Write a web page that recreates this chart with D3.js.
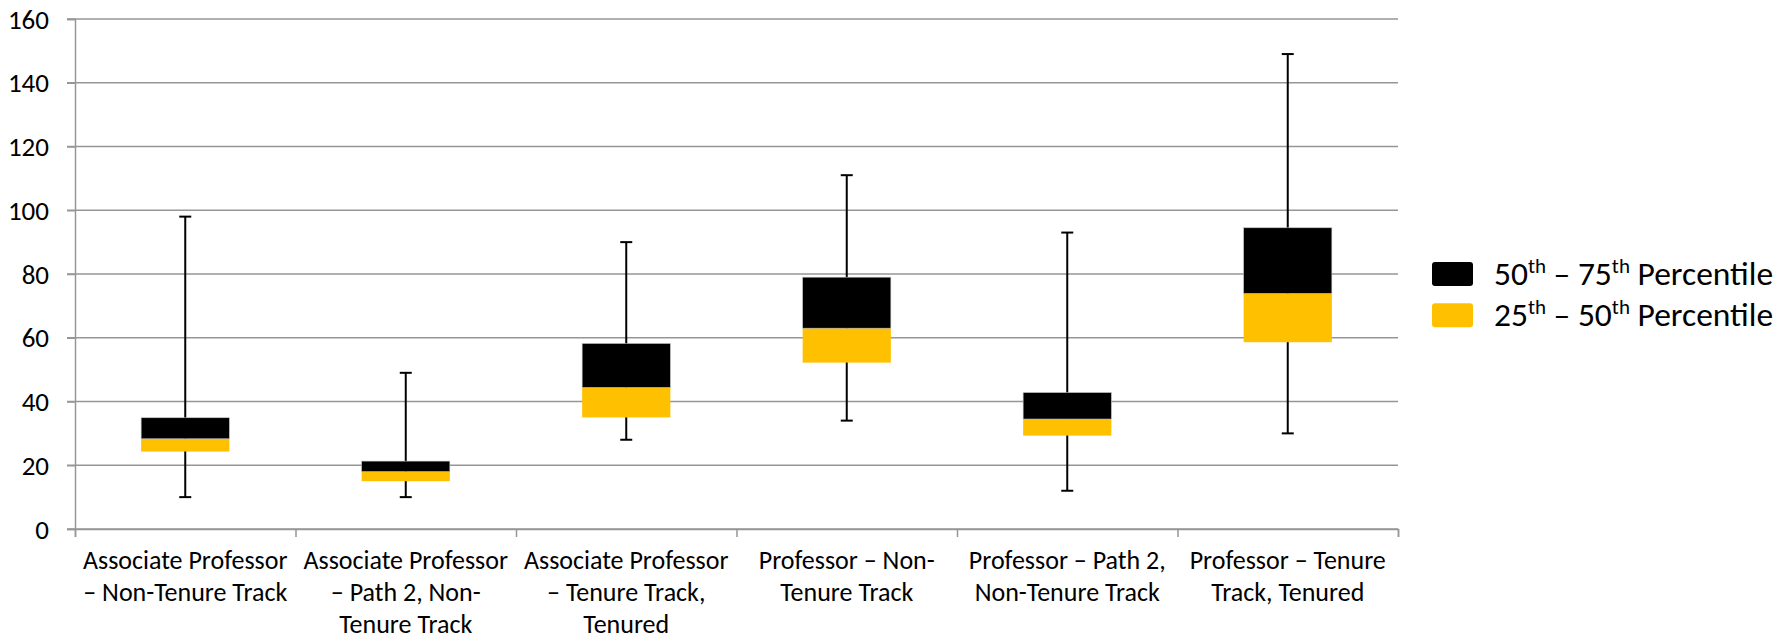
<!DOCTYPE html>
<html><head><meta charset="utf-8">
<script src="https://cdn.jsdelivr.net/npm/d3@7"></script>
<style>
html,body{margin:0;padding:0;background:#fff;}
svg{display:block;font-family:Carlito, Calibri, Lato, "Open Sans", sans-serif;}
</style></head>
<body>
<svg id="chart" width="1782" height="641"></svg>
<script>
const categories = [
  ["Associate Professor", "– Non-Tenure Track"],
  ["Associate Professor", "– Path 2, Non-", "Tenure Track"],
  ["Associate Professor", "– Tenure Track,", "Tenured"],
  ["Professor – Non-", "Tenure Track"],
  ["Professor – Path 2,", "Non-Tenure Track"],
  ["Professor – Tenure", "Track, Tenured"]
];
const minValues    = [10, 10, 28, 34, 12, 30];
const q1Values     = [24.3, 15, 35, 52.2, 29.3, 58.6];
const medianValues = [28.3, 18, 44.4, 63, 34.5, 73.9];
const q3Values     = [34.9, 21.3, 58.2, 79, 42.8, 94.5];
const maxValues    = [98, 49, 90, 111, 93, 149];
const yTicks = [0, 20, 40, 60, 80, 100, 120, 140, 160];
const legendLabels = [
  {parts: [["50","n"],["th","s"],[" – 75","n"],["th","s"],[" Percentile","n"]], color: "#000000"},
  {parts: [["25","n"],["th","s"],[" – 50","n"],["th","s"],[" Percentile","n"]], color: "#FFC000"}
];

(function(){
const svg = d3.select("#chart");
const pl = 75, pr = 1398, pt = 19, pb = 529;
const idx = categories.map((d, i) => i);
const x = d3.scaleBand().domain(idx).range([pl, pr]).paddingInner(0).paddingOuter(0);
const y = d3.scaleLinear().domain([0, 160]).range([pb, pt]);
const gridColor = "#969696";

svg.append("g").selectAll("line").data(yTicks).join("line")
  .attr("x1", pl - 8).attr("x2", pr)
  .attr("y1", d => y(d)).attr("y2", d => y(d))
  .attr("stroke", gridColor).attr("stroke-width", 1.5);

const yAxis = svg.append("g").attr("transform", `translate(${pl},0)`)
  .call(d3.axisLeft(y).tickValues(yTicks).tickSize(8).tickPadding(18));
yAxis.attr("font-family", null).attr("font-size", null);
yAxis.select(".domain").attr("stroke", gridColor).attr("stroke-width", 1.5);
yAxis.selectAll(".tick line").attr("stroke", gridColor).attr("stroke-width", 1.5);
yAxis.selectAll("text").attr("font-size", 27).attr("fill", "#000").attr("dy", "0.34em");

const xb = d3.scaleLinear().domain([0, categories.length]).range([pl, pr]);
const xAxis = svg.append("g").attr("transform", `translate(0,${pb})`)
  .call(d3.axisBottom(xb).tickValues(d3.range(0, categories.length + 1)).tickSize(8).tickFormat(""));
xAxis.select(".domain").attr("stroke", gridColor).attr("stroke-width", 1.5);
xAxis.selectAll(".tick line").attr("stroke", gridColor).attr("stroke-width", 1.5);

const lab = svg.append("g").selectAll("text").data(categories).join("text")
  .attr("x", (d, i) => x(i) + x.bandwidth() / 2)
  .attr("y", 569)
  .attr("text-anchor", "middle")
  .attr("font-size", 26)
  .attr("fill", "#000");
lab.selectAll("tspan").data(d => d).join("tspan")
  .attr("x", function() { return d3.select(this.parentNode).attr("x"); })
  .attr("dy", (d, j) => j === 0 ? 0 : 31.8)
  .text(d => d);

const cx = i => x(i) + x.bandwidth() / 2;
const boxW = x.bandwidth() * 0.4;
const capW = 12;
const wg = svg.append("g").attr("stroke", "#000").attr("stroke-width", 2);
idx.forEach(i => {
  wg.append("line").attr("x1", cx(i)).attr("x2", cx(i)).attr("y1", y(maxValues[i])).attr("y2", y(minValues[i]));
  wg.append("line").attr("x1", cx(i) - capW / 2).attr("x2", cx(i) + capW / 2).attr("y1", y(maxValues[i])).attr("y2", y(maxValues[i]));
  wg.append("line").attr("x1", cx(i) - capW / 2).attr("x2", cx(i) + capW / 2).attr("y1", y(minValues[i])).attr("y2", y(minValues[i]));
});

svg.append("g").selectAll("rect").data(idx).join("rect")
  .attr("x", i => cx(i) - boxW / 2).attr("width", boxW)
  .attr("y", i => y(medianValues[i])).attr("height", i => y(q1Values[i]) - y(medianValues[i]))
  .attr("fill", "#FFC000");
svg.append("g").selectAll("rect").data(idx).join("rect")
  .attr("x", i => cx(i) - boxW / 2).attr("width", boxW)
  .attr("y", i => y(q3Values[i])).attr("height", i => y(medianValues[i]) - y(q3Values[i]))
  .attr("fill", "#000").attr("stroke", "#bfbfbf").attr("stroke-width", 0.6);

const lg = svg.append("g").attr("transform", "translate(1432,262)");
const items = lg.selectAll("g").data(legendLabels).join("g")
  .attr("transform", (d, i) => `translate(0,${i * 41.3})`);
items.append("rect").attr("width", 41).attr("height", 24).attr("rx", 3).attr("ry", 3)
  .attr("fill", d => d.color);
const lt = items.append("text").attr("x", 62).attr("y", 23).attr("font-size", 33.5).attr("fill", "#000");
lt.selectAll("tspan").data(d => d.parts).join("tspan")
  .attr("font-size", d => d[1] === "s" ? 21 : 33.5)
  .attr("dy", (d, j, nodes) => {
    const prev = j > 0 ? nodes[j - 1].__data__[1] : "n";
    if (d[1] === "s" && prev !== "s") return -12;
    if (d[1] !== "s" && prev === "s") return 12;
    return 0;
  })
  .text(d => d[0]);
})();
</script>
</body></html>
